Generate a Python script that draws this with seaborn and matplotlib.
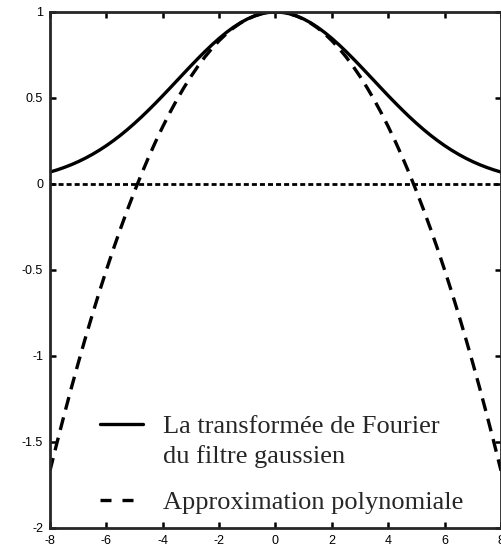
import matplotlib
matplotlib.use('Agg')
import matplotlib.pyplot as plt
import seaborn as sns
import pandas as pd
from matplotlib.lines import Line2D

sns.set_style("ticks")
plt.rcParams['font.family'] = ['Liberation Sans', 'DejaVu Sans']
plt.rcParams['axes.unicode_minus'] = False

# valeurs (demi-courbes de 0 a 8, pas de 0.25 ; symetriques)
x_half = [0, 0.25, 0.5, 0.75, 1, 1.25, 1.5, 1.75, 2, 2.25, 2.5, 2.75, 3, 3.25, 3.5, 3.75,
          4, 4.25, 4.5, 4.75, 5, 5.25, 5.5, 5.75, 6, 6.25, 6.5, 6.75, 7, 7.25, 7.5, 7.75, 8]
gauss_half = [1.0, 0.9974, 0.9896, 0.9768, 0.9592, 0.9370, 0.9105, 0.8802, 0.8465,
              0.8098, 0.7707, 0.7297, 0.6873, 0.6440, 0.6003, 0.5566, 0.5134, 0.4711,
              0.4301, 0.3906, 0.3529, 0.3171, 0.2835, 0.2522, 0.2231, 0.1964, 0.1720,
              0.1498, 0.1298, 0.1119, 0.0960, 0.0819, 0.0695]
poly_half = [1.0, 0.9974, 0.9896, 0.9766, 0.9583, 0.9349, 0.9063, 0.8724, 0.8333,
             0.7891, 0.7396, 0.6849, 0.625, 0.5599, 0.4896, 0.4141, 0.3333, 0.2474,
             0.1563, 0.0599, -0.0417, -0.1484, -0.2604, -0.3776, -0.5, -0.6276, -0.7604,
             -0.8984, -1.0417, -1.1901, -1.3438, -1.5026, -1.6667]
x_vals = [-v for v in x_half[::-1]] + x_half[1:]
gauss = gauss_half[::-1] + gauss_half[1:]
poly = poly_half[::-1] + poly_half[1:]
zero_level = 0

labels_courbes = ['La transformée de Fourier', 'du filtre gaussien', 'Approximation polynomiale']
x_ticks = [-8, -6, -4, -2, 0, 2, 4, 6, 8]
y_ticks = [-2, -1.5, -1, -0.5, 0, 0.5, 1]
y_ticklabels = ['-2', '-1.5', '-1', '-0.5', '0', '0.5', '1']

df = pd.DataFrame({
    'x': x_vals * 2,
    'y': gauss + poly,
    'courbe': ['gauss'] * len(x_vals) + ['poly'] * len(x_vals),
})

fig = plt.figure(figsize=(5.02, 5.48), dpi=100)
ax = fig.add_axes([50 / 502, 20 / 548, 451 / 502, 516 / 548])

sns.lineplot(data=df, x='x', y='y', hue='courbe', style='courbe',
             palette=['black', 'black'], dashes=[(1, 0), (3.9, 2.4)],
             linewidth=2.4, legend=False, ax=ax, sort=False)
ax.axhline(zero_level, color='black', linewidth=2.0, dashes=(1.8, 1.1))

ax.set_xlim(-8, 8)
ax.set_ylim(-2, 1)
ax.set_xticks(x_ticks)
ax.set_xticklabels([str(t) for t in x_ticks])
ax.set_yticks(y_ticks)
ax.set_yticklabels(y_ticklabels)
ax.set_xlabel('')
ax.set_ylabel('')
for s in ax.spines.values():
    s.set_linewidth(2)
    s.set_visible(True)
ax.tick_params(direction='in', length=4, width=1.8, top=True, right=True,
               labelsize=9, pad=5, colors='black')

serif = {'family': ['Liberation Serif', 'DejaVu Serif'], 'size': 19}
h1 = [Line2D([], [], color='black', lw=2.4),
      Line2D([], [], color='none', lw=0)]
leg1 = ax.legend(h1, labels_courbes[:2], loc='upper left', bbox_to_anchor=(0.111, 0.220),
                 frameon=False, prop=serif, handlelength=1.62, handletextpad=0.78,
                 labelspacing=0.25, borderpad=0, borderaxespad=0)
ax.add_artist(leg1)
h2 = [Line2D([], [], color='black', lw=2.4, dashes=(3.3, 3.3))]
ax.legend(h2, labels_courbes[2:], loc='upper left', bbox_to_anchor=(0.111, 0.072),
          frameon=False, prop=serif, handlelength=1.62, handletextpad=0.78,
          borderpad=0, borderaxespad=0)

fig.savefig('out.png', dpi=100)
